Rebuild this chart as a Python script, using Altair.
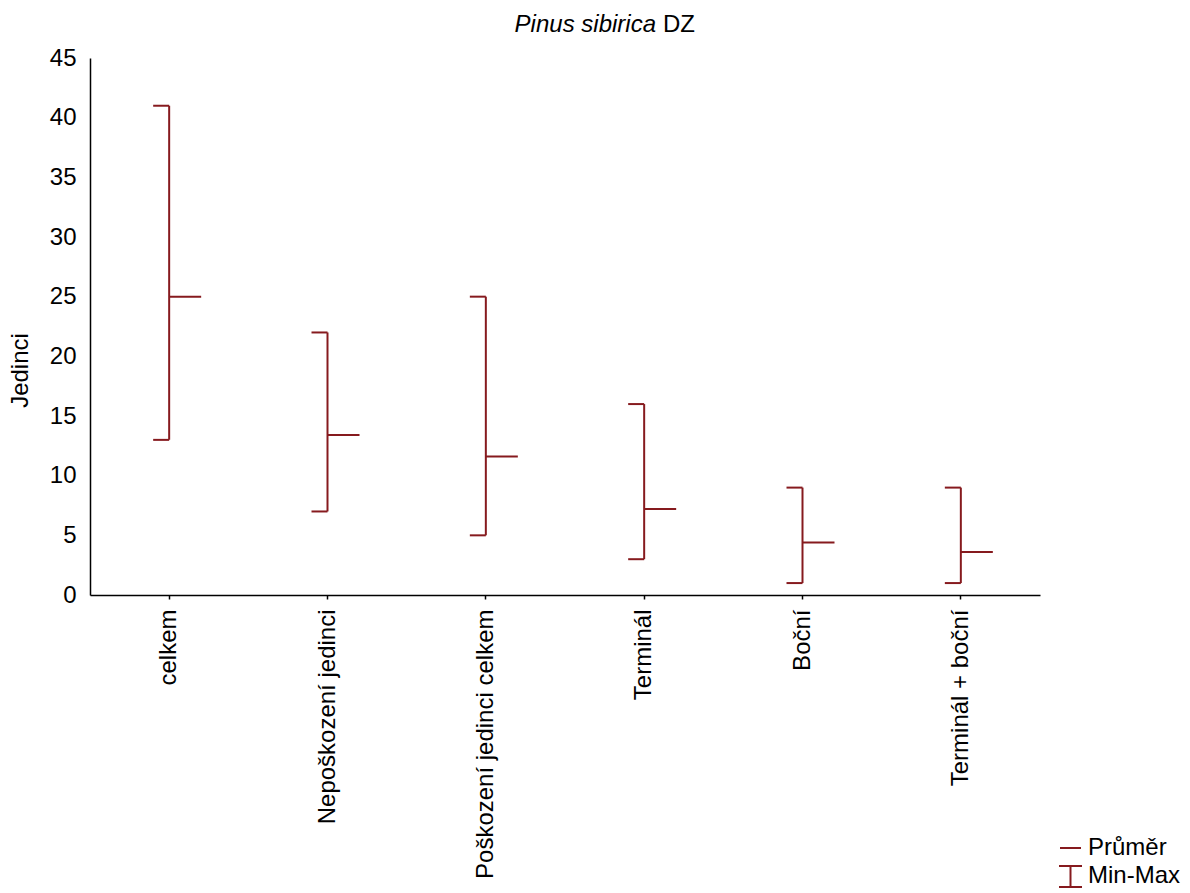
import altair as alt
import pandas as pd

categories = ["celkem", "Nepoškození jedinci", "Poškození jedinci celkem",
              "Terminál", "Boční", "Terminál + boční"]
means = [25.0, 13.4, 11.6, 7.2, 4.4, 3.6]
mins = [13, 7, 5, 3, 1, 1]
maxs = [41, 22, 25, 16, 9, 9]
y_ticks = [0, 5, 10, 15, 20, 25, 30, 35, 40, 45]

COLOR = "#861A1E"
FONT = "Liberation Sans"
FS = 24

df = pd.DataFrame({"cat": categories, "mean": means, "min": mins, "max": maxs})

x = alt.X(
    "cat:N", sort=categories,
    scale=alt.Scale(paddingInner=0, paddingOuter=0),
    axis=alt.Axis(title=None, labelAngle=-90, labelFontSize=FS, labelFont=FONT,
                  labelColor="black", tickSize=4, tickColor="black", tickWidth=1.5,
                  domainColor="black", domainWidth=1.5, labelPadding=10, labelLimit=0,
                  labelAlign="right", labelBaseline="middle"),
)
yscale = alt.Scale(domain=[0, 45], nice=False)
yaxis = alt.Axis(values=y_ticks, title="Jedinci", grid=False, tickSize=0,
                 labelPadding=14, labelFontSize=FS, labelFont=FONT, labelColor="black",
                 domainColor="black", domainWidth=1.5,
                 titleFontSize=FS, titleFont=FONT, titleFontWeight="normal",
                 titleColor="black", titleX=-70, titleY=312, titleBaseline="middle")

def Y(field):
    return alt.Y(field, scale=yscale, axis=yaxis)

base = alt.Chart(df)
vline = base.mark_rule(color=COLOR, strokeWidth=2).encode(x=x, y=Y("min:Q"), y2="max:Q")
cap_lo = base.mark_tick(color=COLOR, thickness=2, size=16, xOffset=-8, opacity=1).encode(x=x, y=Y("min:Q"))
cap_hi = base.mark_tick(color=COLOR, thickness=2, size=16, xOffset=-8, opacity=1).encode(x=x, y=Y("max:Q"))
mean_t = base.mark_tick(color=COLOR, thickness=2, size=32, xOffset=16, opacity=1).encode(x=x, y=Y("mean:Q"))

# title (mixed italic / normal)
t1 = alt.Chart(pd.DataFrame({"t": ["Pinus sibirica"]})).mark_text(
    font=FONT, fontSize=FS, fontStyle="italic", align="right", baseline="alphabetic", color="black"
).encode(x=alt.value(566), y=alt.value(-26), text="t:N")
t2 = alt.Chart(pd.DataFrame({"t": ["DZ"]})).mark_text(
    font=FONT, fontSize=FS, align="left", baseline="alphabetic", color="black"
).encode(x=alt.value(573), y=alt.value(-26), text="t:N")

# manual legend
one = pd.DataFrame({"a": [0]})
leg_mean = alt.Chart(one).mark_rule(color=COLOR, strokeWidth=2).encode(
    x=alt.value(970), x2=alt.value(991), y=alt.value(790))
leg_v = alt.Chart(one).mark_rule(color=COLOR, strokeWidth=2).encode(
    x=alt.value(980.5), y=alt.value(808), y2=alt.value(829))
leg_c1 = alt.Chart(one).mark_rule(color=COLOR, strokeWidth=2).encode(
    x=alt.value(969), x2=alt.value(992), y=alt.value(808))
leg_c2 = alt.Chart(one).mark_rule(color=COLOR, strokeWidth=2).encode(
    x=alt.value(969), x2=alt.value(992), y=alt.value(829))
leg_txt = alt.Chart(pd.DataFrame({"t": ["Průměr", "Min-Max"], "yy": [790, 818]})).mark_text(
    font=FONT, fontSize=FS, align="left", baseline="middle", color="black"
).encode(x=alt.value(998), y=alt.Y("yy:Q", scale=None), text="t:N")

chart = alt.layer(vline, cap_lo, cap_hi, mean_t, t1, t2,
                  leg_mean, leg_v, leg_c1, leg_c2, leg_txt).properties(
    width=950, height=537,
    autosize=alt.AutoSizeParams(type="none"),
    padding={"left": 90, "top": 58, "right": 150, "bottom": 298},
    background="white",
).configure_view(stroke=None)

chart.save("out.html", embed_options={"renderer": "svg", "actions": False})
